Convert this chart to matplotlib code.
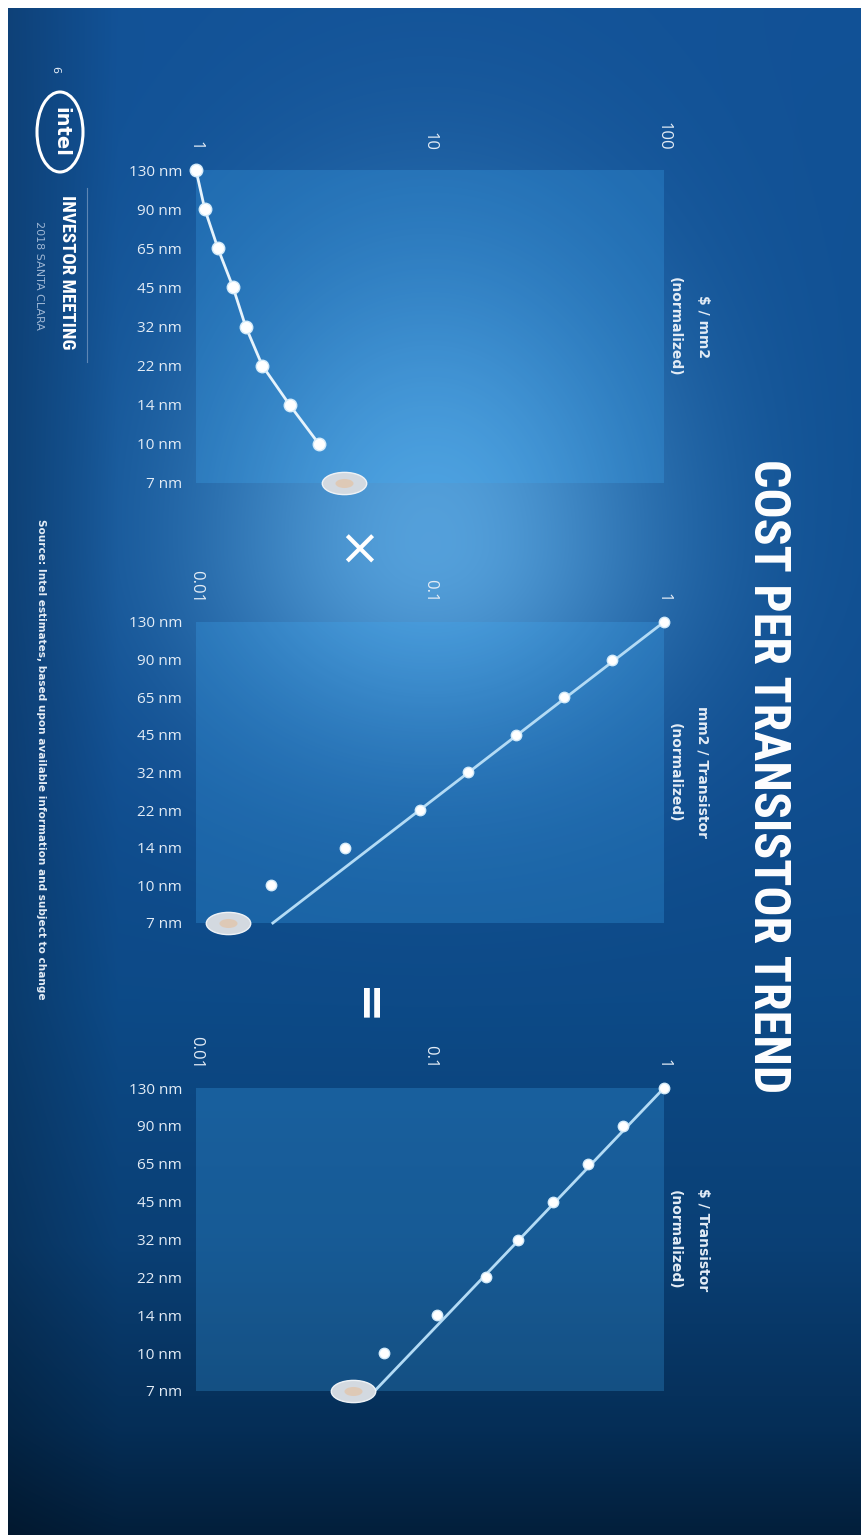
import matplotlib.pyplot as plt
import numpy as np
from matplotlib.lines import Line2D
from matplotlib.patches import Ellipse
from matplotlib.path import Path
from matplotlib.ticker import NullLocator
from matplotlib.transforms import Affine2D

W, H, DPI = 862, 1535, 100

nodes = ["130 nm", "90 nm", "65 nm", "45 nm", "32 nm", "22 nm", "14 nm", "10 nm", "7 nm"]

# normalized to 130 nm; the 7 nm point is only shown as a blank marker
cost_per_mm2 = [1.0, 1.09, 1.24, 1.44, 1.63, 1.92, 2.51, 3.35]
cost_per_mm2_7nm = 4.3

area_per_transistor = [1.0, 0.60, 0.375, 0.234, 0.145, 0.0906, 0.0433, 0.0209]
area_per_transistor_7nm = 0.0137
area_trend = [1.0, 0.0213]  # 130 nm -> 7 nm

cost_per_transistor = [1.0, 0.668, 0.473, 0.336, 0.238, 0.173, 0.107, 0.0635]
cost_per_transistor_7nm = 0.0469
cost_trend = [1.0, 0.058]  # 130 nm -> 7 nm

panel_units = ["$ / mm2", "mm2 / Transistor", "$ / Transistor"]
panel_ticks = [[1, 10, 100], [0.01, 0.1, 1], [0.01, 0.1, 1]]
panel_ticklabels = [["1", "10", "100"], ["0.01", "0.1", "1"], ["0.01", "0.1", "1"]]

TEXT = "#e3ecf6"
NARROW = ["Roboto Condensed", "Liberation Sans Narrow", "DejaVu Sans Condensed", "Roboto",
          "DejaVu Sans"]


def fx(px):
    return px / W


def fy(py):
    return 1 - py / H


fig = plt.figure(figsize=(W / DPI, H / DPI), dpi=DPI, facecolor="white")

# slide background: vertical blue ramp, darker left edge, soft glow in the middle
yy, xx = np.mgrid[8:H, 8:W].astype(float)
v = yy / H
stops = [0, 0.3, 0.5, 0.65, 0.81, 0.93, 1.0]
base = np.dstack([
    np.interp(v, stops, [0.07, 0.06, 0.06, 0.05, 0.04, 0.02, 0.01]),
    np.interp(v, stops, [0.32, 0.31, 0.30, 0.29, 0.25, 0.18, 0.12]),
    np.interp(v, stops, [0.59, 0.57, 0.56, 0.53, 0.46, 0.34, 0.23]),
])
sy = np.where(yy < 545, 300.0, 200.0)
glow = np.exp(-((xx - 430) / 235) ** 2 - ((yy - 545) / sy) ** 2)
img = base + glow[..., None] * np.array([0.27, 0.32, 0.29])
img *= (0.8 + 0.2 * np.clip((xx - 8) / 110, 0, 1))[..., None]
bg = fig.add_axes([fx(8), 0, fx(W - 8), (H - 8) / H], zorder=-5)
bg.imshow(np.clip(img, 0, 1), aspect="auto", interpolation="bilinear")
bg.axis("off")

ellipse_marker = Path.unit_circle().transformed(Affine2D().scale(1.0, 0.5))

tops = [170, 622, 1088]
bottoms = [483, 923, 1391]
axes = []
for i in range(3):
    ax = fig.add_axes([fx(196), fy(bottoms[i]), fx(664 - 196), (bottoms[i] - tops[i]) / H])
    ax.set_facecolor((0.25, 0.68, 0.97, 0.25))
    ax.set_xscale("log")
    ax.set_xlim(panel_ticks[i][0], panel_ticks[i][-1])
    ax.set_ylim(8, 0)
    ax.xaxis.tick_top()
    ax.set_xticks(panel_ticks[i], panel_ticklabels[i], rotation=-90)
    ax.xaxis.set_minor_locator(NullLocator())
    ax.set_yticks(range(len(nodes)), nodes)
    ax.tick_params(axis="x", length=0, pad=14, labelsize=12, labelcolor=TEXT)
    ax.tick_params(axis="y", length=0, pad=10, labelsize=11, labelcolor=TEXT)
    for lab in ax.get_xticklabels() + ax.get_yticklabels():
        lab.set_family("Open Sans")
    for s in ax.spines.values():
        s.set_visible(False)

    mid = (tops[i] + bottoms[i]) / 2
    fig.text(fx(703), fy(mid), panel_units[i], rotation=-90, ha="center", va="center",
             fontsize=10, fontweight="bold", color=TEXT)
    fig.text(fx(675), fy(mid), "(normalized)", rotation=-90, ha="center", va="center",
             fontsize=10, fontweight="bold", color=TEXT)
    axes.append(ax)

idx = np.arange(len(cost_per_mm2))
dot_kw = dict(ls="none", marker="o", mfc="white", mec="#d4ebfa", clip_on=False, zorder=4)
blank_kw = dict(ls="none", marker=ellipse_marker, markersize=32, mfc="#d3d9e0",
                mec="#eef2f6", mew=1, clip_on=False, zorder=5)
core_kw = dict(ls="none", marker=ellipse_marker, markersize=13, mfc="#e3c4a8",
               mec="none", alpha=0.75, clip_on=False, zorder=6)

# $ / mm2
ax = axes[0]
ax.plot(cost_per_mm2, idx, color="#e6f3fc", lw=2, clip_on=False, zorder=3)
ax.plot(cost_per_mm2, idx, markersize=9, **dot_kw)
ax.plot([cost_per_mm2_7nm], [8], **blank_kw)
ax.plot([cost_per_mm2_7nm], [8], **core_kw)

# mm2 / transistor
ax = axes[1]
ax.plot(area_trend, [0, 8], color="#b3dbf5", lw=2, clip_on=False, zorder=3)
ax.plot(area_per_transistor, idx, markersize=7.5, **dot_kw)
ax.plot([area_per_transistor_7nm], [8], **blank_kw)
ax.plot([area_per_transistor_7nm], [8], **core_kw)

# $ / transistor
ax = axes[2]
ax.plot(cost_trend, [0, 8], color="#b3dbf5", lw=2, clip_on=False, zorder=3)
ax.plot(cost_per_transistor, idx, markersize=7.5, **dot_kw)
ax.plot([cost_per_transistor_7nm], [8], **blank_kw)
ax.plot([cost_per_transistor_7nm], [8], **core_kw)

# operators between the panels
fig.text(fx(359), fy(551), "\u00d7", ha="center", va="center", fontsize=36, color="white")
fig.text(fx(364), fy(1007), "=", rotation=-90, ha="center", va="center", fontsize=34,
         fontweight="bold", color="white")

fig.text(fx(767), fy(776), "COST PER TRANSISTOR TREND", rotation=-90, ha="center",
         va="center", fontsize=36, fontweight="bold", color="white", family=NARROW)

# header / footer
fig.text(fx(55), fy(70), "6", rotation=-90, ha="center", va="center", fontsize=8, color=TEXT)
fig.add_artist(Ellipse((fx(60), fy(132)), 46 / W, 80 / H, fill=False, ec="white", lw=2.2,
                       transform=fig.transFigure))
fig.text(fx(61), fy(132), "intel", rotation=-90, ha="center", va="center", fontsize=14,
         fontweight="bold", color="white")
fig.text(fx(67), fy(272), "INVESTOR MEETING", rotation=-90, ha="center", va="center",
         fontsize=13.5, fontweight="bold", color="white", family=NARROW)
fig.text(fx(39), fy(275), "2018 SANTA CLARA", rotation=-90, ha="center", va="center",
         fontsize=8, color="#9db6d4")
fig.add_artist(Line2D([fx(87), fx(87)], [fy(188), fy(362)], transform=fig.transFigure,
                      color="#5d86b4", lw=0.8))
fig.text(fx(41), fy(759),
         "Source: Intel estimates, based upon available information and subject to change",
         rotation=-90, ha="center", va="center", fontsize=7.6, fontweight="bold", color=TEXT)

fig.savefig("out.png", dpi=DPI, facecolor=fig.get_facecolor())
